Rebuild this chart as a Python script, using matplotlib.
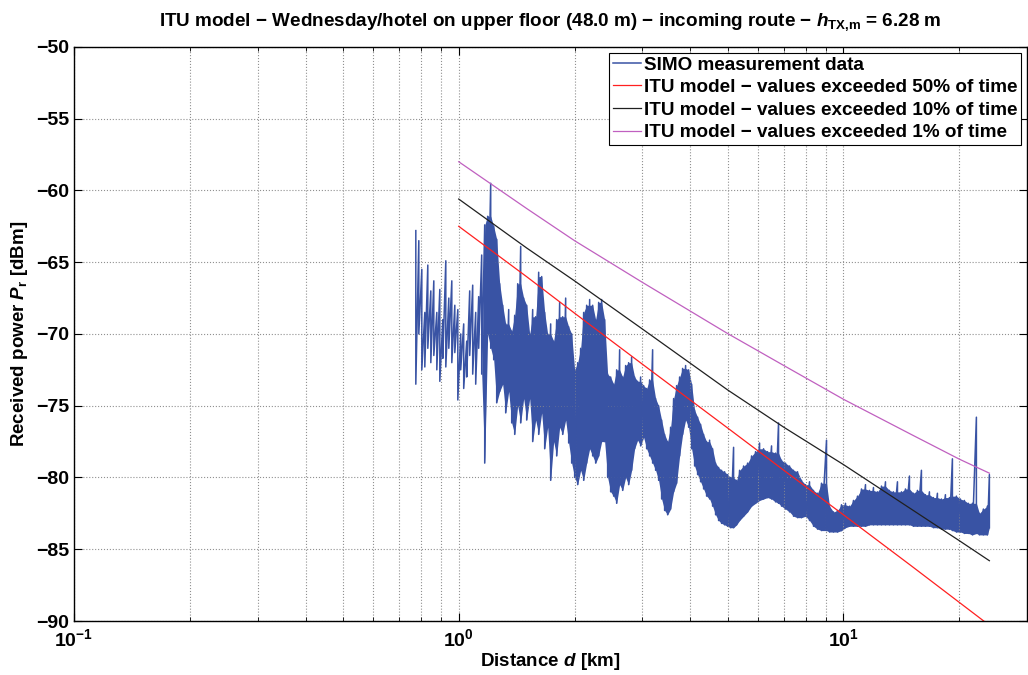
import matplotlib
matplotlib.use("Agg")
import matplotlib.pyplot as plt
import numpy as np
from matplotlib.ticker import FixedLocator, NullFormatter

plt.rcParams['font.family'] = ['Liberation Sans', 'DejaVu Sans']
plt.rcParams['font.weight'] = 'bold'
plt.rcParams['mathtext.fontset'] = 'custom'
plt.rcParams['mathtext.rm'] = 'Liberation Sans:bold'
plt.rcParams['mathtext.bf'] = 'Liberation Sans:bold'
plt.rcParams['mathtext.it'] = 'Liberation Sans:italic:bold'

# measurement: distance [km], local max / local min of received power [dBm]
meas_km = [
    0.7735, 0.7875, 0.8018, 0.8163, 0.8311, 0.8462, 0.8615, 0.8771, 0.8930, 0.9092,
    0.9256, 0.9424, 0.9595, 0.9769, 0.9946, 1.0120, 1.0303, 1.0490, 1.0680, 1.0873,
    1.1070, 1.1270, 1.1475, 1.1683, 1.1894, 1.2110, 1.2329, 1.2552, 1.2780, 1.3011,
    1.3247, 1.3487, 1.3731, 1.3980, 1.4233, 1.4491, 1.4753, 1.5020, 1.5292, 1.5569,
    1.5851, 1.6138, 1.6430, 1.6728, 1.7031, 1.7339, 1.7653, 1.7973, 1.8298, 1.8630,
    1.8967, 1.9311, 1.9660, 2.0016, 2.0379, 2.0748, 2.1124, 2.1506, 2.1896, 2.2292,
    2.2696, 2.3107, 2.3525,
    2.3951, 2.4385, 2.4826, 2.5276, 2.5734, 2.6200, 2.6674, 2.7157, 2.7649, 2.8150,
    2.8659, 2.9178, 2.9707, 3.0245, 3.0793, 3.1350, 3.1918, 3.2496, 3.3085, 3.3684,
    3.4294, 3.4915, 3.5547, 3.6191, 3.6846, 3.7514, 3.8193, 3.8885, 3.9589, 4.0306,
    4.1036, 4.1779, 4.2535, 4.3306, 4.4090, 4.4888, 4.5701, 4.6529, 4.7371, 4.8229,
    4.9103, 4.9992, 5.0897, 5.1819, 5.2757, 5.3713,
    5.5013, 5.6345, 5.7709, 5.9106, 6.0537, 6.2003, 6.3504, 6.5041, 6.6616, 6.7822,
    6.9050, 7.0722, 7.2434, 7.4188, 7.5984, 7.7823, 7.9707, 8.1637, 8.3613, 8.5637,
    8.7711, 9.0377, 9.2014, 9.4242, 9.6523, 9.8860, 10.125, 10.370, 10.621, 10.879,
    11.142, 11.412, 11.688, 11.971, 12.261, 12.558, 12.862, 13.173, 13.492, 13.819,
    14.153, 14.496, 14.847, 15.206, 15.574, 15.951, 16.337, 16.733, 17.138, 17.553,
    17.978, 18.413, 18.859, 19.200, 19.665, 20.141, 20.629, 21.128, 21.640, 22.164,
    22.565, 23.112, 23.671, 23.956,
]
meas_hi = [
    -62.8, -63.5, -65.5, -68.5, -65.2, -67.0, -66.3, -68.5, -66.9, -69.0,
    -64.9, -67.5, -66.3, -68.0, -68.3, -70.0, -69.3, -70.5, -67.0, -66.6,
    -68.5, -67.4, -64.5, -62.4, -61.8, -59.5, -62.5, -63.4, -66.5, -68.0,
    -69.3, -68.3, -69.8, -68.7, -66.5, -63.9, -67.5, -68.0, -70.0, -68.3,
    -68.8, -65.7, -66.0, -68.5, -70.0, -69.3, -70.5, -69.0, -67.8, -68.8,
    -67.5, -69.5, -70.0, -72.5, -72.0, -71.0, -68.5, -68.0, -67.6, -68.0,
    -69.0, -67.8, -67.6,
    -69.0, -72.8, -73.0, -73.5, -72.5, -71.1, -73.0, -72.2, -72.0, -71.6,
    -73.0, -73.3, -73.0, -73.6, -73.8, -73.2, -71.1, -74.5, -75.0, -76.0,
    -77.0, -77.5, -76.5, -74.5, -73.6, -73.0, -72.4, -72.2, -72.5, -73.5,
    -75.3, -75.8, -76.3, -77.0, -77.5, -77.4, -78.0, -79.0, -79.3, -79.5,
    -79.6, -79.8, -80.0, -77.9, -80.2, -79.5,
    -79.2, -79.0, -78.5, -78.2, -77.6, -78.0, -78.2, -77.8, -78.3, -76.2,
    -78.8, -79.0, -79.2, -79.5, -79.6, -80.2, -80.5, -80.3, -80.9, -81.1,
    -80.4, -77.4, -82.0, -82.4, -82.3, -81.9, -81.8, -82.0, -81.6, -81.3,
    -80.8, -80.5, -80.9, -80.7, -81.0, -80.6, -80.3, -80.9, -81.0, -80.3,
    -81.0, -80.8, -79.9, -81.1, -80.9, -79.5, -81.2, -81.0, -81.4, -81.1,
    -81.5, -81.2, -81.4, -78.7, -81.3, -81.5, -81.6, -81.8, -81.8, -75.8,
    -82.5, -82.2, -82.0, -79.8,
]
meas_lo = [
    -73.5, -70.0, -72.5, -72.3, -71.0, -72.0, -71.5, -72.5, -73.3, -71.7,
    -72.3, -71.0, -72.0, -71.3, -74.6, -72.5, -73.8, -73.0, -71.5, -72.8,
    -73.5, -71.0, -72.8, -79.0, -70.0, -71.0, -71.8, -74.8, -74.0, -73.5,
    -75.5, -74.0, -76.2, -77.0, -75.0, -76.2, -74.5, -76.0, -74.5, -77.5,
    -76.0, -77.0, -75.5, -78.0, -76.5, -80.2, -77.5, -78.5, -76.5, -77.0,
    -76.0, -77.6, -79.0, -80.0, -80.5, -79.5, -80.2, -79.0, -78.0, -78.5,
    -79.0, -78.5, -77.5,
    -77.5, -80.0, -81.0, -81.3, -81.8, -80.5, -80.9, -80.0, -80.5, -79.5,
    -78.0, -77.4, -77.8, -77.2, -78.0, -78.5, -79.0, -79.5, -80.2, -81.5,
    -82.3, -82.6, -82.2, -81.0, -80.4, -78.5, -77.0, -76.0, -76.5, -78.0,
    -79.2, -79.8, -80.3, -80.8, -81.3, -81.5, -82.0, -82.6, -83.0, -83.2,
    -83.3, -83.4, -83.5, -83.5, -83.3, -83.0,
    -82.7, -82.4, -82.0, -81.8, -81.6, -81.5, -81.4, -81.5, -81.7, -81.8,
    -82.0, -82.2, -82.4, -82.7, -82.8, -82.8, -82.7, -83.0, -83.4, -83.6,
    -83.7, -83.7, -83.8, -83.8, -83.8, -83.7, -83.5, -83.4, -83.4, -83.4,
    -83.4, -83.4, -83.3, -83.3, -83.3, -83.3, -83.3, -83.3, -83.3, -83.3,
    -83.3, -83.3, -83.3, -83.4, -83.4, -83.4, -83.4, -83.4, -83.5, -83.5,
    -83.6, -83.6, -83.6, -83.7, -83.8, -83.8, -83.9, -83.9, -84.0, -83.9,
    -84.0, -84.0, -84.0, -83.5,
]

# ITU model curves
model_km = [1.0, 1.5, 2.0, 3.0, 5.0, 7.0, 10.0, 15.0, 20.0, 23.956]
itu_50 = [-62.5, -66.0, -68.55, -72.1, -76.55, -79.5, -82.6, -86.15, -88.7, -90.3]
itu_10 = [-60.6, -64.0, -66.3, -69.65, -73.9, -76.5, -79.1, -82.2, -84.4, -85.8]
itu_1 = [-58.0, -61.25, -63.5, -66.4, -69.97, -72.2, -74.55, -77.0, -78.72, -79.7]

blue = '#3953a4'

fig = plt.figure(figsize=(10.28, 6.75), dpi=100)
ax = fig.add_axes([0.072, 0.08, 0.927, 0.8505])

km = np.array(meas_km)
hi = np.array(meas_hi)
lo = np.array(meas_lo)
# dense part of the trace: fill the band, isolated peaks stay as thin lines
core = np.minimum(hi, np.maximum(np.roll(hi, 1), np.roll(hi, -1)))
ax.fill_between(km, lo, core, where=km >= 1.15, color=blue, lw=0, interpolate=True)
ax.plot(np.repeat(km, 2), np.column_stack([hi, lo]).ravel(), color=blue, lw=1.1,
        label='SIMO measurement data')
ax.plot(model_km, itu_50, color='#ff2020', lw=0.9, label='ITU model − values exceeded 50% of time')
ax.plot(model_km, itu_10, color='#202020', lw=0.9, label='ITU model − values exceeded 10% of time')
ax.plot(model_km, itu_1, color='#c060c0', lw=0.9, label='ITU model − values exceeded 1% of time')

ax.set_xscale('log')
ax.set_xlim(0.1, 30)
ax.set_ylim(-90, -50)
ax.set_yticks(np.arange(-90, -49, 5))
ax.xaxis.set_major_locator(FixedLocator([0.1, 1, 10]))
ax.set_xticklabels([r'$10^{-1}$', r'$10^{0}$', r'$10^{1}$'])
minor = [m * 10.0 ** e for e in (-1, 0, 1) for m in range(2, 10) if m * 10.0 ** e < 30]
ax.xaxis.set_minor_locator(FixedLocator(minor))
ax.xaxis.set_minor_formatter(NullFormatter())

ax.grid(True, which='both', axis='x', linestyle=':', color='#909090', lw=0.8)
ax.grid(True, which='major', axis='y', linestyle=':', color='#909090', lw=0.8)
ax.tick_params(which='both', direction='in', top=True, right=True, labelsize=14)
ax.tick_params(axis='x', which='major', pad=5)
ax.tick_params(which='major', length=6)
ax.tick_params(which='minor', length=3)
for s in ax.spines.values():
    s.set_linewidth(1.0)

ax.set_title(r'ITU model − Wednesday/hotel on upper floor (48.0 m) − incoming route − $h_{\mathrm{TX{,}m}}$ = 6.28 m',
             fontsize=13.6, fontweight='bold', pad=15)
ax.set_xlabel(r'Distance $d$ [km]', fontsize=13.5, fontweight='bold', labelpad=1)
ax.set_ylabel(r'Received power $P_{\mathrm{r}}$ [dBm]', fontsize=13.5, fontweight='bold')

leg = ax.legend(loc='upper right', fontsize=13.6, fancybox=False, framealpha=1,
                edgecolor='black', borderaxespad=0.3, handlelength=1.5,
                handletextpad=0.15, labelspacing=0.28, borderpad=0.2)
leg.get_frame().set_linewidth(0.8)

fig.savefig('out.png', dpi=100)
